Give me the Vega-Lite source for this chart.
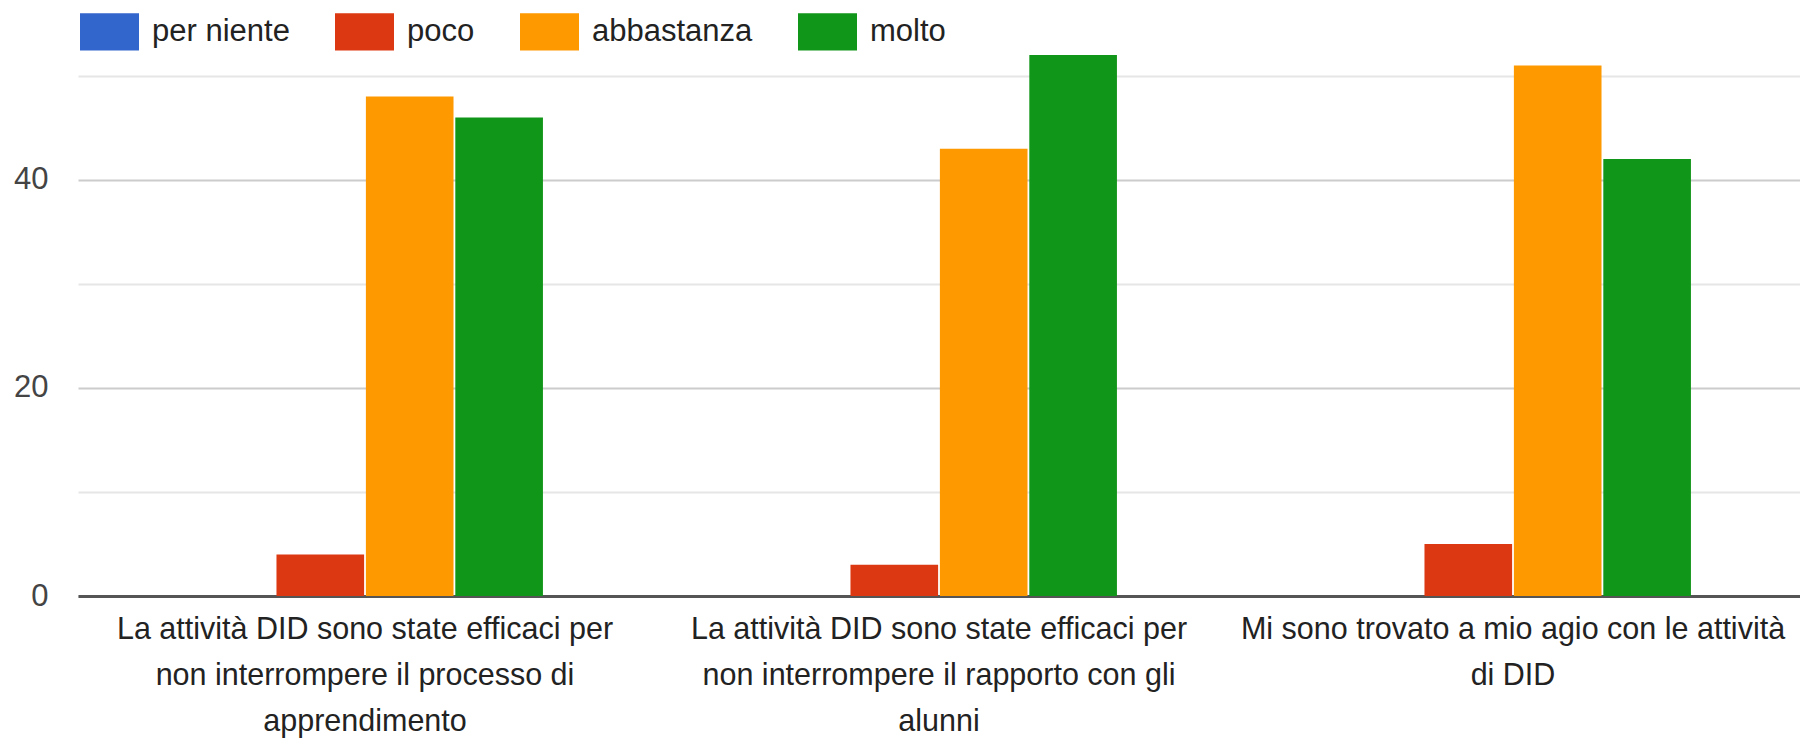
{
  "$schema": "https://vega.github.io/schema/vega-lite/v6.json",
  "autosize": "none",
  "padding": {"left": 78, "top": 55, "right": 0, "bottom": 151},
  "width": 1722,
  "height": 541,
  "background": "white",
  "config": {
    "view": {"stroke": null},
    "font": "Liberation Sans"
  },
  "data": {
    "values": [
      {"domanda": "La attività DID sono state efficaci per|non interrompere il processo di|apprendimento", "risposta": "per niente", "n": 0},
      {"domanda": "La attività DID sono state efficaci per|non interrompere il processo di|apprendimento", "risposta": "poco", "n": 4},
      {"domanda": "La attività DID sono state efficaci per|non interrompere il processo di|apprendimento", "risposta": "abbastanza", "n": 48},
      {"domanda": "La attività DID sono state efficaci per|non interrompere il processo di|apprendimento", "risposta": "molto", "n": 46},
      {"domanda": "La attività DID sono state efficaci per|non interrompere il rapporto con gli|alunni", "risposta": "per niente", "n": 0},
      {"domanda": "La attività DID sono state efficaci per|non interrompere il rapporto con gli|alunni", "risposta": "poco", "n": 3},
      {"domanda": "La attività DID sono state efficaci per|non interrompere il rapporto con gli|alunni", "risposta": "abbastanza", "n": 43},
      {"domanda": "La attività DID sono state efficaci per|non interrompere il rapporto con gli|alunni", "risposta": "molto", "n": 52},
      {"domanda": "Mi sono trovato a mio agio con le attività|di DID", "risposta": "per niente", "n": 0},
      {"domanda": "Mi sono trovato a mio agio con le attività|di DID", "risposta": "poco", "n": 5},
      {"domanda": "Mi sono trovato a mio agio con le attività|di DID", "risposta": "abbastanza", "n": 51},
      {"domanda": "Mi sono trovato a mio agio con le attività|di DID", "risposta": "molto", "n": 42}
    ]
  },
  "mark": {"type": "bar"},
  "encoding": {
    "x": {
      "field": "domanda",
      "type": "nominal",
      "sort": null,
      "title": null,
      "scale": {"paddingInner": 0.38, "paddingOuter": 0.19},
      "axis": {
        "labelExpr": "split(datum.label, '|')",
        "labelAngle": 0,
        "labelFontSize": 30.5,
        "labelLineHeight": 46,
        "labelColor": "#222222",
        "labelPadding": 18,
        "labelLimit": 0,
        "ticks": false,
        "domain": true,
        "domainColor": "#555555",
        "domainWidth": 3,
        "grid": false
      }
    },
    "xOffset": {
      "field": "risposta",
      "type": "nominal",
      "sort": ["per niente", "poco", "abbastanza", "molto"],
      "scale": {"paddingInner": 0.02}
    },
    "y": {
      "field": "n",
      "type": "quantitative",
      "title": null,
      "scale": {"domain": [0, 52], "nice": false},
      "axis": {
        "values": [0, 10, 20, 30, 40, 50],
        "labelExpr": "datum.value % 20 === 0 ? datum.label : ''",
        "labelFontSize": 31,
        "labelColor": "#444444",
        "labelPadding": 30,
        "ticks": false,
        "domain": false,
        "gridColor": {"condition": {"test": "datum.value % 20 === 0", "value": "#cccccc"}, "value": "#e6e6e6"},
        "gridWidth": 2
      }
    },
    "color": {
      "field": "risposta",
      "type": "nominal",
      "sort": ["per niente", "poco", "abbastanza", "molto"],
      "scale": {
        "domain": ["per niente", "poco", "abbastanza", "molto"],
        "range": ["#3366cc", "#dc3912", "#ff9900", "#109618"]
      },
      "legend": {
        "title": null,
        "orient": "none",
        "direction": "horizontal",
        "legendX": 2,
        "legendY": -53,
        "symbolType": "M-1,-0.63H1V0.63H-1Z",
        "symbolSize": 3481,
        "symbolStrokeWidth": 0,
        "labelFontSize": 31,
        "labelLimit": 0,
        "labelColor": "#222222",
        "labelOffset": 13,
        "columnPadding": 45,
        "padding": 0
      }
    }
  }
}
